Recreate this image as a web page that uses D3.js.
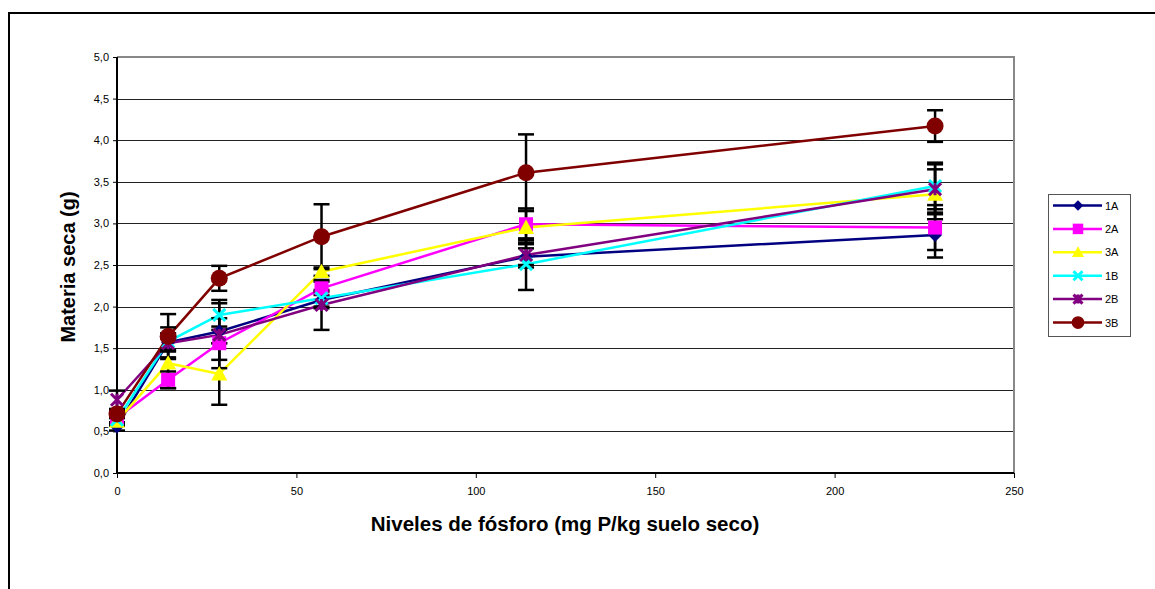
<!DOCTYPE html>
<html lang="es">
  <head>
    <meta charset="utf-8" />
    <title>Materia seca</title>
    <script src="https://cdn.jsdelivr.net/npm/d3@7"></script>
    <style>
      body { margin: 0; background: white; }
      svg text { font-family: "Liberation Sans", Arial, sans-serif; }
    </style>
  </head>
  <body>
    <script>
      // data
      const niveles = [0, 14.25, 28.5, 57, 114, 228];
      const series = ["1A", "2A", "3A", "1B", "2B", "3B"];
      const colors = ["#000080", "#ff00ff", "#ffff00", "#00ffff", "#800080", "#800000"];
      const markers = ["diamond", "square", "triangle", "times", "star", "circle"];

      const v1A = [0.56, 1.57, 1.70, 2.08, 2.60, 2.86];
      const v2A = [0.66, 1.12, 1.56, 2.22, 2.99, 2.95];
      const v3A = [0.62, 1.32, 1.19, 2.42, 2.95, 3.35];
      const v1B = [0.64, 1.58, 1.90, 2.10, 2.51, 3.45];
      const v2B = [0.88, 1.56, 1.66, 2.02, 2.62, 3.41];
      const v3B = [0.71, 1.64, 2.34, 2.84, 3.61, 4.17];

      const e1A = [0.05, 0.18, 0.34, 0.10, 0.10, 0.27];
      const e2A = [0.05, 0.10, 0.30, 0.08, 0.19, 0.27];
      const e3A = [0.05, 0.30, 0.37, 0.05, 0.20, 0.30];
      const e1B = [0.05, 0.10, 0.18, 0.10, 0.31, 0.28];
      const e2B = [0.11, 0.10, 0.10, 0.30, 0.15, 0.30];
      const e3B = [0.05, 0.27, 0.15, 0.39, 0.46, 0.19];

      const values = [v1A, v2A, v3A, v1B, v2B, v3B];
      const errors = [e1A, e2A, e3A, e1B, e2B, e3B];

      const yTicks = [0, 0.5, 1, 1.5, 2, 2.5, 3, 3.5, 4, 4.5, 5];
      const xTicks = [0, 50, 100, 150, 200, 250];

      const width = 1155, height = 589;
      const svg = d3.select("body").append("svg")
        .attr("width", width).attr("height", height);

      // outer chart frame (runs off the picture on right and bottom)
      svg.append("rect")
        .attr("x", 9).attr("y", 13)
        .attr("width", 1200).attr("height", 700)
        .attr("fill", "none").attr("stroke", "black").attr("stroke-width", 2);

      const x = d3.scaleLinear().domain([0, 250]).range([117, 1014]);
      const y = d3.scaleLinear().domain([0, 5]).range([473, 57]);

      // gridlines
      svg.append("g").selectAll("line")
        .data(yTicks.slice(1, -1))
        .join("line")
        .attr("x1", x(0)).attr("x2", x(250))
        .attr("y1", d => Math.round(y(d)) + 0.5).attr("y2", d => Math.round(y(d)) + 0.5)
        .attr("stroke", "#222").attr("stroke-width", 1);

      // plot area border (top/right grey)
      svg.append("path")
        .attr("d", `M${x(0)},${y(5)}H${x(250)}V${y(0)}`)
        .attr("fill", "none").attr("stroke", "#888").attr("stroke-width", 2);

      const fmt = d => d.toFixed(1).replace(".", ",");

      const yAxis = svg.append("g")
        .attr("transform", `translate(${x(0)},0)`)
        .call(d3.axisLeft(y).tickValues(yTicks).tickFormat(fmt).tickSize(4).tickPadding(4));
      const xAxis = svg.append("g")
        .attr("transform", `translate(0,${y(0)})`)
        .call(d3.axisBottom(x).tickValues(xTicks).tickFormat(d3.format("d")).tickSize(5).tickPadding(9));

      [yAxis, xAxis].forEach(a => {
        a.select(".domain").attr("stroke", "black").attr("stroke-width", 2);
        a.selectAll(".tick line").attr("stroke", "black");
        a.selectAll(".tick text")
          .attr("font-family", "Liberation Sans, Arial, sans-serif")
          .attr("font-size", 11).attr("fill", "black");
      });
      xAxis.select(".domain").attr("d", `M${x(0)},0H${x(250)}`);
      yAxis.select(".domain").attr("d", `M0,${y(0)}V${y(5)}`);

      // axis titles
      svg.append("text")
        .attr("x", 565).attr("y", 531)
        .attr("text-anchor", "middle")
        .attr("font-size", 20.5).attr("font-weight", "bold")
        .text("Niveles de fósforo (mg P/kg suelo seco)");
      svg.append("text")
        .attr("transform", "translate(75,267) rotate(-90)")
        .attr("text-anchor", "middle")
        .attr("font-size", 20).attr("font-weight", "bold")
        .text("Materia seca (g)");

      function drawMarker(g, kind, color, cx, cy, scale) {
        const s = scale || 1;
        if (kind === "diamond") {
          const r = 7 * s;
          g.append("path").attr("d", `M${cx},${cy - r}L${cx + r},${cy}L${cx},${cy + r}L${cx - r},${cy}Z`)
            .attr("fill", color);
        } else if (kind === "square") {
          const r = 7 * s;
          g.append("rect").attr("x", cx - r).attr("y", cy - r)
            .attr("width", 2 * r).attr("height", 2 * r).attr("fill", color);
        } else if (kind === "triangle") {
          const r = 8 * s;
          g.append("path").attr("d", `M${cx},${cy - r}L${cx + r},${cy + r * 0.8}L${cx - r},${cy + r * 0.8}Z`)
            .attr("fill", color);
        } else if (kind === "times") {
          const r = 6 * s;
          g.append("path").attr("d", `M${cx - r},${cy - r}L${cx + r},${cy + r}M${cx - r},${cy + r}L${cx + r},${cy - r}`)
            .attr("stroke", color).attr("stroke-width", 3);
        } else if (kind === "star") {
          const r = 6 * s;
          g.append("path").attr("d", `M${cx - r},${cy - r}L${cx + r},${cy + r}M${cx - r},${cy + r}L${cx + r},${cy - r}M${cx},${cy - r}V${cy + r}`)
            .attr("stroke", color).attr("stroke-width", 3);
        } else {
          g.append("circle").attr("cx", cx).attr("cy", cy).attr("r", 8.5 * s).attr("fill", color);
        }
      }

      const line = d3.line().x(d => x(d[0])).y(d => y(d[1]));

      // lines
      series.forEach((s, i) => {
        svg.append("path")
          .datum(niveles.map((n, j) => [n, values[i][j]]))
          .attr("d", line)
          .attr("fill", "none").attr("stroke", colors[i]).attr("stroke-width", 2.5);
      });

      // error bars
      const eb = svg.append("g").attr("stroke", "black").attr("stroke-width", 2.5);
      series.forEach((s, i) => {
        niveles.forEach((n, j) => {
          const cx = x(n), lo = y(values[i][j] - errors[i][j]), hi = y(values[i][j] + errors[i][j]);
          eb.append("line").attr("x1", cx).attr("x2", cx).attr("y1", lo).attr("y2", hi);
          eb.append("line").attr("x1", cx - 8).attr("x2", cx + 8).attr("y1", lo).attr("y2", lo);
          eb.append("line").attr("x1", cx - 8).attr("x2", cx + 8).attr("y1", hi).attr("y2", hi);
        });
      });

      // markers
      series.forEach((s, i) => {
        const g = svg.append("g");
        niveles.forEach((n, j) => drawMarker(g, markers[i], colors[i], x(n), y(values[i][j])));
      });

      // legend
      const lg = svg.append("g");
      lg.append("rect")
        .attr("x", 1048.5).attr("y", 194.5).attr("width", 82).attr("height", 142)
        .attr("fill", "white").attr("stroke", "#555").attr("stroke-width", 1);
      series.forEach((s, i) => {
        const ly = 205.5 + i * 23.4;
        lg.append("line").attr("x1", 1053).attr("x2", 1102).attr("y1", ly).attr("y2", ly)
          .attr("stroke", colors[i]).attr("stroke-width", 2.5);
        drawMarker(lg, markers[i], colors[i], 1078, ly, 0.75);
        lg.append("text").attr("x", 1105).attr("y", ly + 4)
          .attr("font-size", 11).attr("fill", "black").text(s);
      });
    </script>
  </body>
</html>
